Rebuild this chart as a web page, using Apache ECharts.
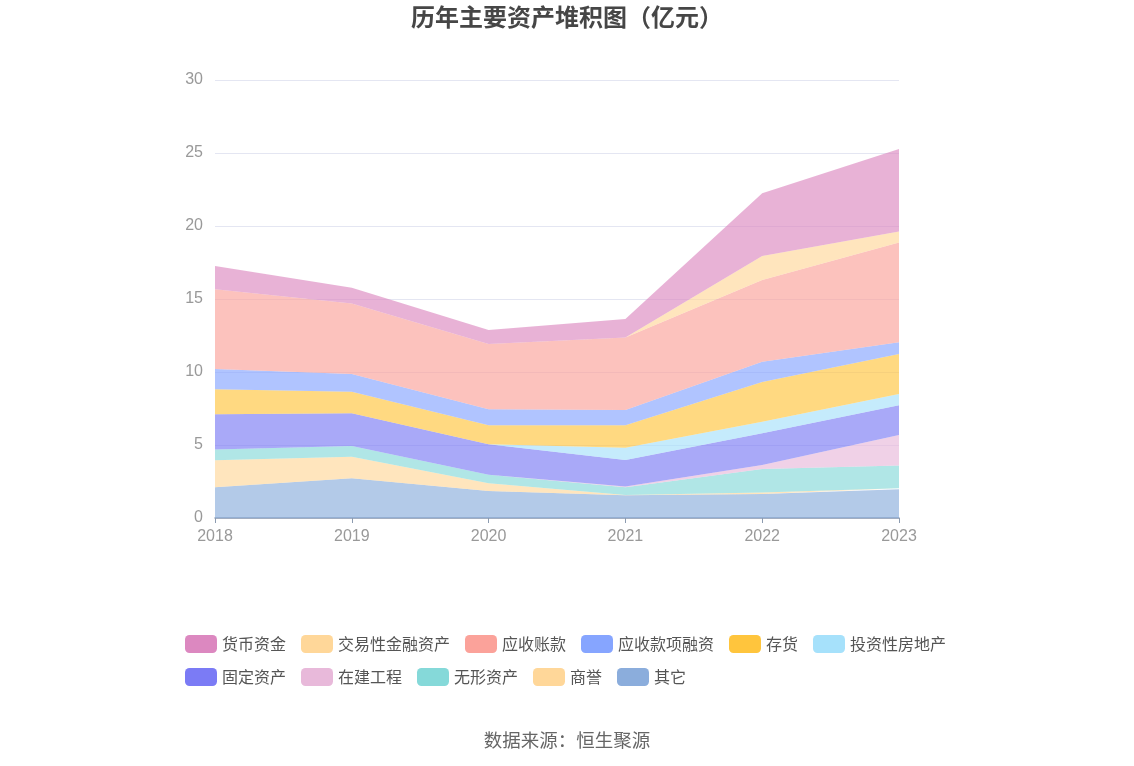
<!DOCTYPE html>
<html>
<head>
<meta charset="utf-8">
<script src="https://cdn.jsdelivr.net/npm/echarts@6/dist/echarts.min.js"></script>
<style>html,body{margin:0;padding:0;background:#fff;}#c{width:1134px;height:766px;}</style>
</head>
<body>
<div id="c"></div>
<script>
var years = ['2018','2019','2020','2021','2022','2023'];
var yTicks = [0,5,10,15,20,25,30];
// stacked bottom-up order
var qita      = [2.10, 2.72, 1.85, 1.55, 1.64, 1.97];
var shangyu   = [1.85, 1.48, 0.53, 0.03, 0.10, 0.07];
var wuxing    = [0.75, 0.73, 0.59, 0.52, 1.62, 1.55];
var zaijian   = [0.00, 0.00, 0.00, 0.05, 0.27, 2.10];
var guding    = [2.40, 2.24, 2.08, 1.82, 2.17, 2.04];
var touzifdc  = [0.00, 0.00, 0.00, 0.85, 0.80, 0.77];
var cunhuo    = [1.71, 1.48, 1.30, 1.53, 2.72, 2.74];
var yskxrz    = [1.39, 1.21, 1.10, 1.05, 1.39, 0.80];
var yszk      = [5.46, 4.84, 4.47, 4.97, 5.59, 6.83];
var jyxjr     = [0.00, 0.00, 0.00, 0.00, 1.65, 0.75];
var hbzj      = [1.60, 1.07, 0.96, 1.26, 4.29, 5.66];

var names = ['货币资金','交易性金融资产','应收账款','应收款项融资','存货','投资性房地产','固定资产','在建工程','无形资产','商誉','其它'];
var colors = ['#DC88C0','#FFD799','#FBA29A','#86A5FF','#FFC53D','#A6E1FB','#7B7BF5','#E8B9DA','#85D9D9','#FFD799','#8BADDC'];
var dataMap = {
  '货币资金': hbzj, '交易性金融资产': jyxjr, '应收账款': yszk, '应收款项融资': yskxrz,
  '存货': cunhuo, '投资性房地产': touzifdc, '固定资产': guding, '在建工程': zaijian,
  '无形资产': wuxing, '商誉': shangyu, '其它': qita
};
var stackOrder = names.slice().reverse();
var series = stackOrder.map(function(n){
  var i = names.indexOf(n);
  return {
    name: n, type: 'line', stack: 'total', data: dataMap[n],
    symbol: 'none', smooth: false,
    lineStyle: {width: 0, color: colors[i]},
    itemStyle: {color: colors[i]},
    areaStyle: {color: colors[i], opacity: 0.65}
  };
});

var chart = echarts.init(document.getElementById('c'));
chart.setOption({
  animation: false,
  title: {
    text: '历年主要资产堆积图（亿元）', left: 'center', top: 0,
    textStyle: {fontSize: 24, fontWeight: 'bold', color: '#464646', fontFamily: 'Noto Sans CJK SC'}
  },
  legend: {
    data: names, left: 180, width: 785, top: 630, itemWidth: 32, itemHeight: 18,
    itemGap: 15, icon: 'roundRect',
    textStyle: {fontSize: 16, color: '#555', fontFamily: 'Noto Sans CJK SC'}
  },
  grid: {left: 215, right: 235, top: 80, bottom: 248},
  xAxis: {
    type: 'category', data: years, boundaryGap: false,
    axisLine: {lineStyle: {color: '#8C9BB0', width: 1.5}},
    axisTick: {show: true, lineStyle: {color: '#8C9BB0'}},
    axisLabel: {fontSize: 16, color: '#999', margin: 11}
  },
  yAxis: {
    type: 'value', min: 0, max: 30, interval: 5,
    axisLine: {show: false}, axisTick: {show: false},
    splitLine: {lineStyle: {color: '#E4E6F2'}},
    axisLabel: {fontSize: 16, color: '#999', margin: 12}
  },
  series: series,
  graphic: [{
    type: 'text', left: 'center', top: 731,
    style: {text: '数据来源：恒生聚源', fill: '#666', font: '18.5px "Noto Sans CJK SC"'}
  }]
});
</script>
</body>
</html>
